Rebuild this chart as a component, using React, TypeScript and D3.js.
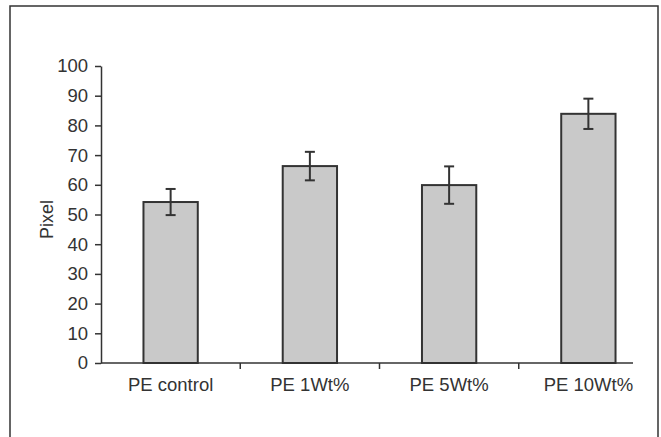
import React, { useEffect, useRef } from 'react';
import * as d3 from 'd3';

const categories = ['PE control', 'PE 1Wt%', 'PE 5Wt%', 'PE 10Wt%'];
const values = [54.2, 66.3, 59.9, 83.9];
const errors = [4.4, 4.8, 6.3, 5.1];
const yTicks = [0, 10, 20, 30, 40, 50, 60, 70, 80, 90, 100];

const W = 661;
const H = 437;
const INK = '#333';
const FONT = '"Liberation Sans", Arial, sans-serif';

export default function App() {
  const svgRef = useRef<SVGSVGElement | null>(null);

  useEffect(() => {
    if (!svgRef.current) return;
    const svg = d3.select(svgRef.current);
    svg.selectAll('*').remove();

    const x = d3.scaleBand<string>().domain(categories).range([101, 658]).padding(0);
    const y = d3.scaleLinear().domain([0, 100]).range([363, 66]);
    const barW = x.bandwidth() * 0.39;

    // frame (cropped at the bottom)
    svg.append('path')
      .attr('d', `M10,${H} V6 H658 V${H}`)
      .attr('fill', 'none')
      .attr('stroke', INK)
      .attr('stroke-width', 1.5);

    // bars
    svg.append('g')
      .selectAll('rect')
      .data(categories)
      .enter()
      .append('rect')
      .attr('x', d => (x(d) ?? 0) + (x.bandwidth() - barW) / 2)
      .attr('y', (d, i) => y(values[i]))
      .attr('width', barW)
      .attr('height', (d, i) => y(0) - y(values[i]))
      .attr('fill', '#c9c9c9')
      .attr('stroke', INK)
      .attr('stroke-width', 2);

    // error bars
    const eb = svg.append('g').attr('stroke', INK).attr('stroke-width', 2);
    categories.forEach((c, i) => {
      const cx = (x(c) ?? 0) + x.bandwidth() / 2;
      const hi = y(values[i] + errors[i]);
      const lo = y(values[i] - errors[i]);
      eb.append('line').attr('x1', cx).attr('x2', cx).attr('y1', hi).attr('y2', lo);
      eb.append('line').attr('x1', cx - 5).attr('x2', cx + 5).attr('y1', hi).attr('y2', hi);
      eb.append('line').attr('x1', cx - 5).attr('x2', cx + 5).attr('y1', lo).attr('y2', lo);
    });

    // y axis
    svg.append('g')
      .attr('transform', `translate(${x.range()[0]},0)`)
      .call(d3.axisLeft(y).tickValues(yTicks).tickSize(6).tickPadding(7).tickSizeOuter(0))
      .call(s => s.select('.domain').attr('stroke', INK).attr('stroke-width', 1.5))
      .call(s => s.selectAll('.tick line').attr('stroke', INK).attr('stroke-width', 1.5))
      .call(s => s.selectAll('.tick text')
        .attr('fill', INK)
        .attr('font-size', 18.5)
        .attr('font-family', FONT));

    // x axis
    const xg = svg.append('g').attr('transform', `translate(0,${y(0)})`);
    xg.append('line')
      .attr('x1', x.range()[0])
      .attr('x2', x.range()[1] - 25)
      .attr('stroke', INK)
      .attr('stroke-width', 1.5);
    xg.selectAll('line.tk')
      .data(categories.slice(1))
      .enter()
      .append('line')
      .attr('class', 'tk')
      .attr('x1', d => x(d) ?? 0)
      .attr('x2', d => x(d) ?? 0)
      .attr('y1', 0)
      .attr('y2', 6)
      .attr('stroke', INK)
      .attr('stroke-width', 1.5);
    xg.selectAll('text')
      .data(categories)
      .enter()
      .append('text')
      .attr('x', d => (x(d) ?? 0) + x.bandwidth() / 2)
      .attr('y', 28)
      .attr('text-anchor', 'middle')
      .attr('fill', INK)
      .attr('font-size', 18.5)
      .attr('font-family', FONT)
      .text(d => d);

    // y title
    svg.append('text')
      .attr('transform', `translate(53,${(y(0) + y(100)) / 2 + 5}) rotate(-90)`)
      .attr('text-anchor', 'middle')
      .attr('fill', INK)
      .attr('font-size', 18)
      .attr('font-family', FONT)
      .text('Pixel');
  }, []);

  return (
    <svg
      ref={svgRef}
      width={W}
      height={H}
      style={{ position: 'absolute', left: 0, top: 0, background: '#fff', display: 'block' }}
    />
  );
}
